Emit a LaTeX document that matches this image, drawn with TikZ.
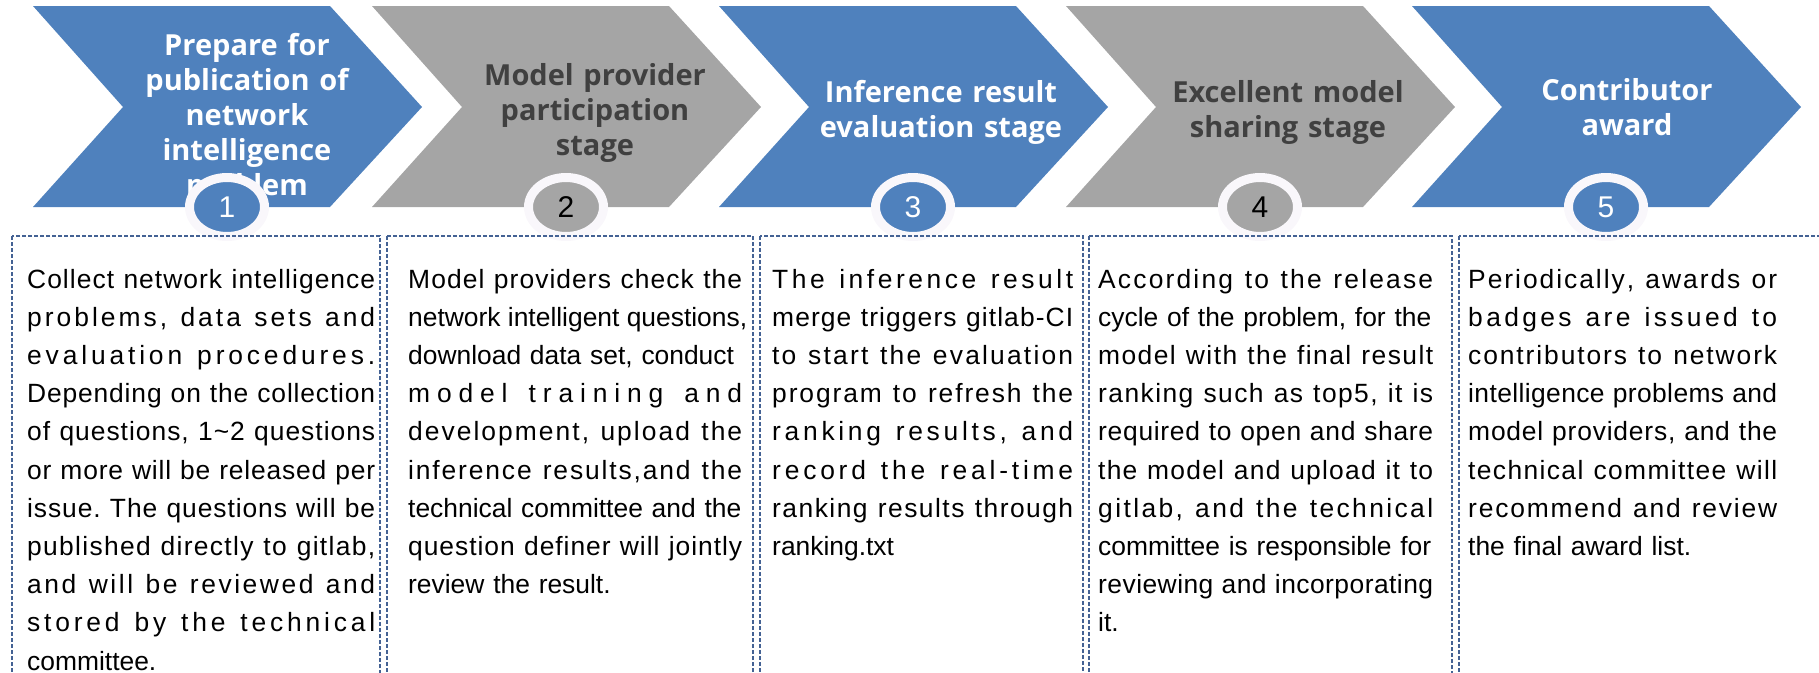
\documentclass[tikz,border=0pt]{standalone}
\usepackage{fontspec}
\setmainfont{Liberation Sans}
\newfontfamily\headfont{Open Sans}
\usetikzlibrary{shapes.geometric}

\definecolor{stageblue}{RGB}{79,129,189}
\definecolor{stagegray}{RGB}{165,165,165}
\definecolor{headgray}{RGB}{64,64,64}
\definecolor{boxline}{RGB}{68,98,148}
\definecolor{ringwhite}{RGB}{249,247,251}

% lines of a text column: spread over the width (\jline) or left (\nline)
\makeatletter
\newif\ifsp@first
\def\sp@gap{\hskip 0pt plus 1fil\relax}
\def\sp@word#1{\@tfor\sp@c:=#1\do{\ifsp@first\sp@firstfalse\else\sp@gap\fi\sp@c}}
\def\sp@loop#1 #2\@nil{\sp@word{#1}\ifx\relax#2\relax\else\sp@gap\hskip\fontdimen2\font\relax\sp@loop#2\@nil\fi}
\newcommand{\jline}[1]{\hbox to \colw{\sp@firsttrue\sp@loop#1 \@nil}}
\newcommand{\nline}[1]{\hbox to \colw{#1\hfil}}
\makeatother

\begin{document}
\begin{tikzpicture}[x=1pt, y=-1pt,
    head/.style={text width=330pt, align=center, anchor=base, inner sep=0pt,
        font=\headfont\bfseries\fontsize{29}{35}\selectfont},
    body/.style={text width=#1, anchor=base west, inner sep=0pt,
        font=\fontsize{26.4}{38.2}\selectfont, execute at begin node={\def\colw{#1}}},
    numb/.style={ellipse, minimum width=75pt, minimum height=59pt, inner sep=0pt,
        line width=9pt, draw=ringwhite, font=\fontsize{30}{30}\selectfont},
    colbox/.style={draw=boxline, line width=1.2pt, dash pattern=on 4pt off 2pt}]

    \useasboundingbox (0,0) rectangle (1819,672);
    \clip (0,0) rectangle (1819,672);

    % stage arrows
    \foreach \L/\col in {33/stageblue, 372/stagegray, 719/stageblue, 1066/stagegray, 1412/stageblue}
        \fill[\col] (\L,6) -- ++(297,0) -- ++(92,101) -- ++(-92,100) -- ++(-297,0) -- ++(90,-100) -- cycle;

    \node[head, text=white] (h1) at (247,55) {Prepare for\\publication of\\network\\intelligence\\problem};
    \node[head, text=headgray] (h2) at (595,85) {Model provider\\participation\\stage};
    \node[head, text=white] (h3) at (941,102) {Inference result\\evaluation stage};
    \node[head, text=headgray] (h4) at (1288,102) {Excellent model\\sharing stage};
    \node[head, text=white] (h5) at (1627,100) {Contributor\\award};

    % step numbers
    \node[numb, fill=stageblue, text=white] (n1) at (227,207) {1};
    \node[numb, fill=stagegray, text=black] (n2) at (566,207) {2};
    \node[numb, fill=stageblue, text=white] (n3) at (913,207) {3};
    \node[numb, fill=stagegray, text=black] (n4) at (1260,207) {4};
    \node[numb, fill=stageblue, text=white] (n5) at (1606,207) {5};

    % text columns
    \draw[colbox] (12,236) rectangle (380,700);
    \draw[colbox] (387,236) rectangle (753,700);
    \draw[colbox] (760,236) rectangle (1083,700);
    \draw[colbox] (1089,236) rectangle (1452,700);
    \draw[colbox] (1459,236) rectangle (1830,700);

    \node[body=348pt] (t1) at (27,288) {\jline{Collect network intelligence}
        \jline{problems, data sets and}
        \jline{evaluation procedures.}
        \jline{Depending on the collection}
        \jline{of questions, 1\textasciitilde2 questions}
        \jline{or more will be released per}
        \jline{issue. The questions will be}
        \jline{published directly to gitlab,}
        \jline{and will be reviewed and}
        \jline{stored by the technical}
        \nline{committee.}};

    \node[body=334pt] (t2) at (408,288) {\jline{Model providers check the}
        \jline{network intelligent questions,}
        \nline{download data set, conduct}
        \jline{model training and}
        \jline{development, upload the}
        \jline{inference results,and the}
        \nline{technical committee and the}
        \jline{question definer will jointly}
        \nline{review the result.}};

    \node[body=301pt] (t3) at (772,288) {\jline{The inference result}
        \jline{merge triggers gitlab-CI}
        \jline{to start the evaluation}
        \jline{program to refresh the}
        \jline{ranking results, and}
        \jline{record the real-time}
        \jline{ranking results through}
        \nline{ranking.txt}};

    \node[body=335pt] (t4) at (1098,288) {\jline{According to the release}
        \nline{cycle of the problem, for the}
        \jline{model with the final result}
        \jline{ranking such as top5, it is}
        \jline{required to open and share}
        \jline{the model and upload it to}
        \jline{gitlab, and the technical}
        \nline{committee is responsible for}
        \jline{reviewing and incorporating}
        \nline{it.}};

    \node[body=309pt] (t5) at (1468,288) {\jline{Periodically, awards or}
        \jline{badges are issued to}
        \jline{contributors to network}
        \jline{intelligence problems and}
        \jline{model providers, and the}
        \jline{technical committee will}
        \jline{recommend and review}
        \nline{the final award list.}};

\end{tikzpicture}
\end{document}
